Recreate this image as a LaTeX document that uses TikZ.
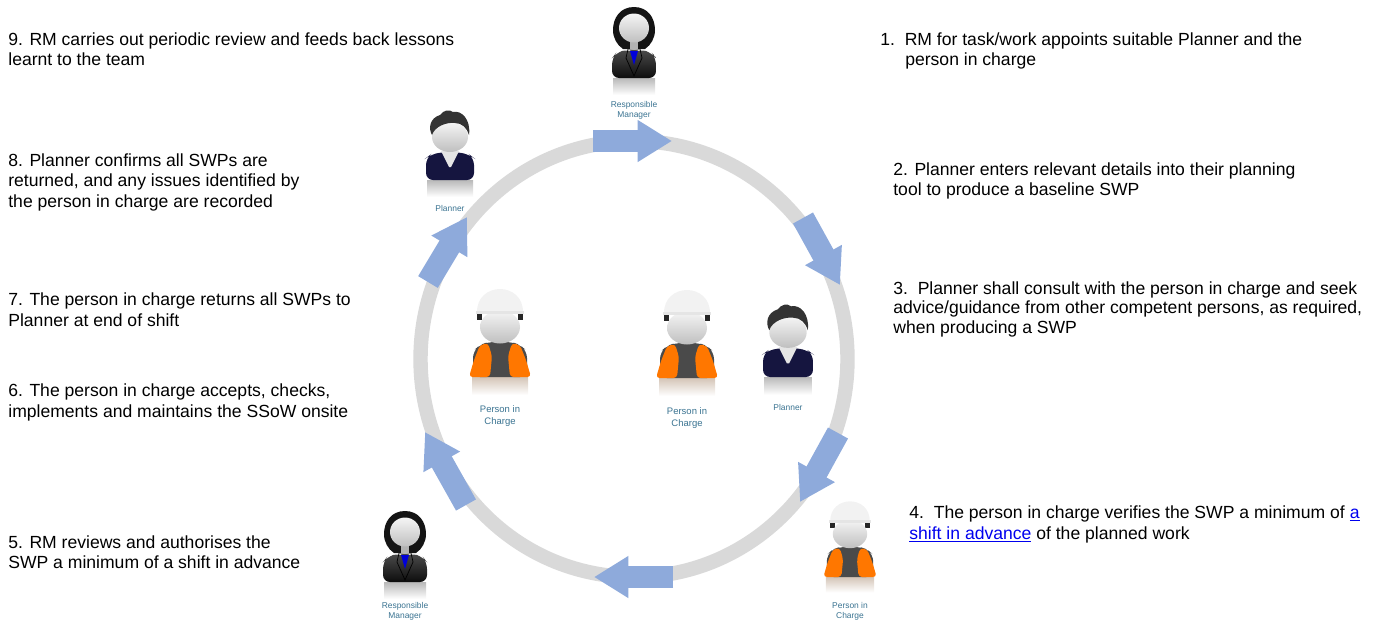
\documentclass[tikz,border=0pt]{standalone}
\usepackage{fontspec}
\setmainfont{Liberation Sans}
\usetikzlibrary{arrows.meta}
\definecolor{ringgray}{HTML}{D9D9D9}
\definecolor{flowblue}{HTML}{8EAADB}
\definecolor{tagteal}{HTML}{3A7391}
\definecolor{vestorange}{HTML}{FF7700}
\definecolor{vestgray}{HTML}{4A4A4A}
\definecolor{plannernavy}{HTML}{15153F}
\definecolor{linkblue}{HTML}{0000EE}
\newcommand{\lnk}[1]{{\color{linkblue}\underline{\color{linkblue}#1}}}
\tikzset{
  note/.style={anchor=north west, inner sep=0pt, align=left, font=\fontsize{10}{11.9}\selectfont},
  tag/.style={inner sep=0pt, align=center, text=tagteal, font=\fontsize{4.8}{5.7}\selectfont},
  tagwide/.style={tag, font=\fontsize{5.4}{6.6}\selectfont},
  ringline/.style={draw=ringgray, line width=8.2pt},
  flowarrow/.style={draw=flowblue, line width=13pt, -{Triangle[length=19.5pt,width=22.5pt]}},
  face/.style={top color=gray!8, bottom color=gray!50},
  mirror/.style={top color=gray!55, bottom color=white, draw=none},
  pics/responsiblemanager/.style={code={
    \shade[mirror] (-21,0) rectangle (21,17);
    \fill[black!92] (0,-71) .. controls (-14,-71) and (-21,-60) .. (-21,-48)
      .. controls (-21,-40) and (-17,-33) .. (-11,-29) -- (11,-29)
      .. controls (17,-33) and (21,-40) .. (21,-48) .. controls (21,-60) and (14,-71) .. (0,-71) -- cycle;
    \fill[gray!60] (-4,-36) rectangle (4,-24);
    \shade[top color=black!70, bottom color=black!95, rounded corners=4pt]
      (-22,0) -- (-22,-20) -- (-18,-25) -- (-6,-29) -- (0,-26) -- (6,-29) -- (18,-25) -- (22,-20) -- (22,0) -- cycle;
    \fill[blue!85!black] (-4,-27) -- (4,-27) -- (0,-13) -- cycle;
    \draw[black, line width=0.4pt] (-6,-29) -- (-8,-20) -- (0,-2) -- (8,-20) -- (6,-29);
    \shade[face] (0,-50) ellipse [x radius=15, y radius=14.5];
  }},
  pics/planner/.style={code={
    \shade[mirror] (-23,0) rectangle (23,17);
    \fill[gray!35] (-4,-32) rectangle (4,-24);
    \fill[plannernavy, rounded corners=4pt] (-24,0) -- (-24,-22) -- (-20,-25) -- (-8,-28) -- (8,-28) -- (20,-25) -- (24,-22) -- (24,0) -- cycle;
    \fill[gray!20] (-9,-29) -- (9,-29) -- (1,-13) -- (-1,-13) -- cycle;
    \shade[face] (0,-43) ellipse [x radius=18, y radius=15];
    \fill[black!80] (-18,-45) .. controls (-22,-52) and (-20,-62) .. (-10,-65)
      .. controls (-6,-70) and (-1,-71) .. (3,-68) .. controls (12,-70) and (21,-60) .. (19,-45)
      .. controls (17,-52) and (12,-57) .. (5,-57) .. controls (-3,-58) and (-15,-54) .. (-18,-45) -- cycle;
  }},
  pics/personincharge/.style={code={
    \shade[top color=vestorange!25!gray!45, bottom color=white, draw=none] (-28,0) rectangle (28,18);
    \fill[vestgray, rounded corners=4pt] (-27,0) -- (-27,-26) -- (-20,-32) -- (-12,-35) -- (12,-35) -- (20,-32) -- (27,-26) -- (27,0) -- cycle;
    \fill[vestorange, rounded corners=2pt] (-12,-34) -- (-8,-21) -- (-10,0) -- (-31,0) -- (-26,-17) -- (-20,-32) -- cycle;
    \fill[vestorange, rounded corners=2pt] (12,-34) -- (8,-21) -- (10,0) -- (31,0) -- (26,-17) -- (20,-32) -- cycle;
    \fill[black!85] (-23,-66) rectangle (-18,-57);
    \fill[black!85] (18,-66) rectangle (23,-57);
    \shade[face] (0,-50) ellipse [x radius=20, y radius=16.5];
    \fill[gray!10] (-23,-64) .. controls (-24,-96) and (24,-96) .. (23,-64) -- cycle;
    \fill[gray!20] (-24,-66) rectangle (24,-63);
  }},
}
\begin{document}
\begin{tikzpicture}[x=0.02cm, y=-0.02cm]
  \clip (0,0) rectangle (1379,620);

  % ring
  \coordinate (ringc) at (634,359);
  \draw[ringline] (ringc) ellipse [x radius=213.5, y radius=218];

  % flow arrows round the ring
  \foreach \n/\sx/\sy/\ex/\ey in {1/593/141/672/141, 2/803/218/840/285, 3/838/433/800/502,
      4/673/577/594/577, 5/466/505/425/432, 6/428/282/467/217}{
    \coordinate (a\n s) at (\sx,\sy);
    \coordinate (a\n e) at (\ex,\ey);
    \draw[flowarrow] (a\n s) -- (a\n e);
  }

  % people
  \pic (mgrtop) at (634,78) {responsiblemanager};
  \pic (mgrbot) at (405,582) {responsiblemanager};
  \pic (plantop) at (450,180) {planner};
  \pic[scale=1.04] (planmid) at (788,377) {planner};
  \pic (picleft) at (500,377) {personincharge};
  \pic (picmid) at (687,378) {personincharge};
  \pic[scale=0.86] (picbot) at (850,577) {personincharge};

  \node[tag] (tmgrtop) at (634,110) {Responsible\\Manager};
  \node[tag] (tplantop) at (450,208) {Planner};
  \node[tagwide] (tpicleft) at (500,416) {Person in\\Charge};
  \node[tagwide] (tpicmid) at (687,418) {Person in\\Charge};
  \node[tag] (tplanmid) at (788,407) {Planner};
  \node[tag] (tpicbot) at (850,611) {Person in\\Charge};
  \node[tag] (tmgrbot) at (405,611) {Responsible\\Manager};

  % steps, right side
  \node[note] (s1) at (880,32) {1.\ \ RM for task/work appoints suitable Planner and the\\\hspace*{14.2pt}person in charge};
  \node[note] (s2) at (893,162) {2. Planner enters relevant details into their planning\\tool to produce a baseline SWP};
  \node[note, font=\fontsize{10}{11.3}\selectfont] (s3) at (893,281) {3.\ \ Planner shall consult with the person in charge and seek\\advice/guidance from other competent persons, as required,\\when producing a SWP};
  \node[note] (s4) at (909,505) {4.\ \ The person in charge verifies the SWP a minimum of \lnk{a}\\\lnk{shift in advance} of the planned work};

  % steps, left side
  \node[note] (s9) at (8,32) {9. RM carries out periodic review and feeds back lessons\\learnt to the team};
  \node[note] (s8) at (8,153) {8. Planner confirms all SWPs are\\returned, and any issues identified by\\the person in charge are recorded};
  \node[note] (s7) at (8,292) {7. The person in charge returns all SWPs to\\Planner at end of shift};
  \node[note] (s6) at (8,383) {6. The person in charge accepts, checks,\\implements and maintains the SSoW onsite};
  \node[note, font=\fontsize{10}{11.4}\selectfont] (s5) at (8,535) {5. RM reviews and authorises the\\SWP a minimum of a shift in advance};
\end{tikzpicture}
\end{document}
